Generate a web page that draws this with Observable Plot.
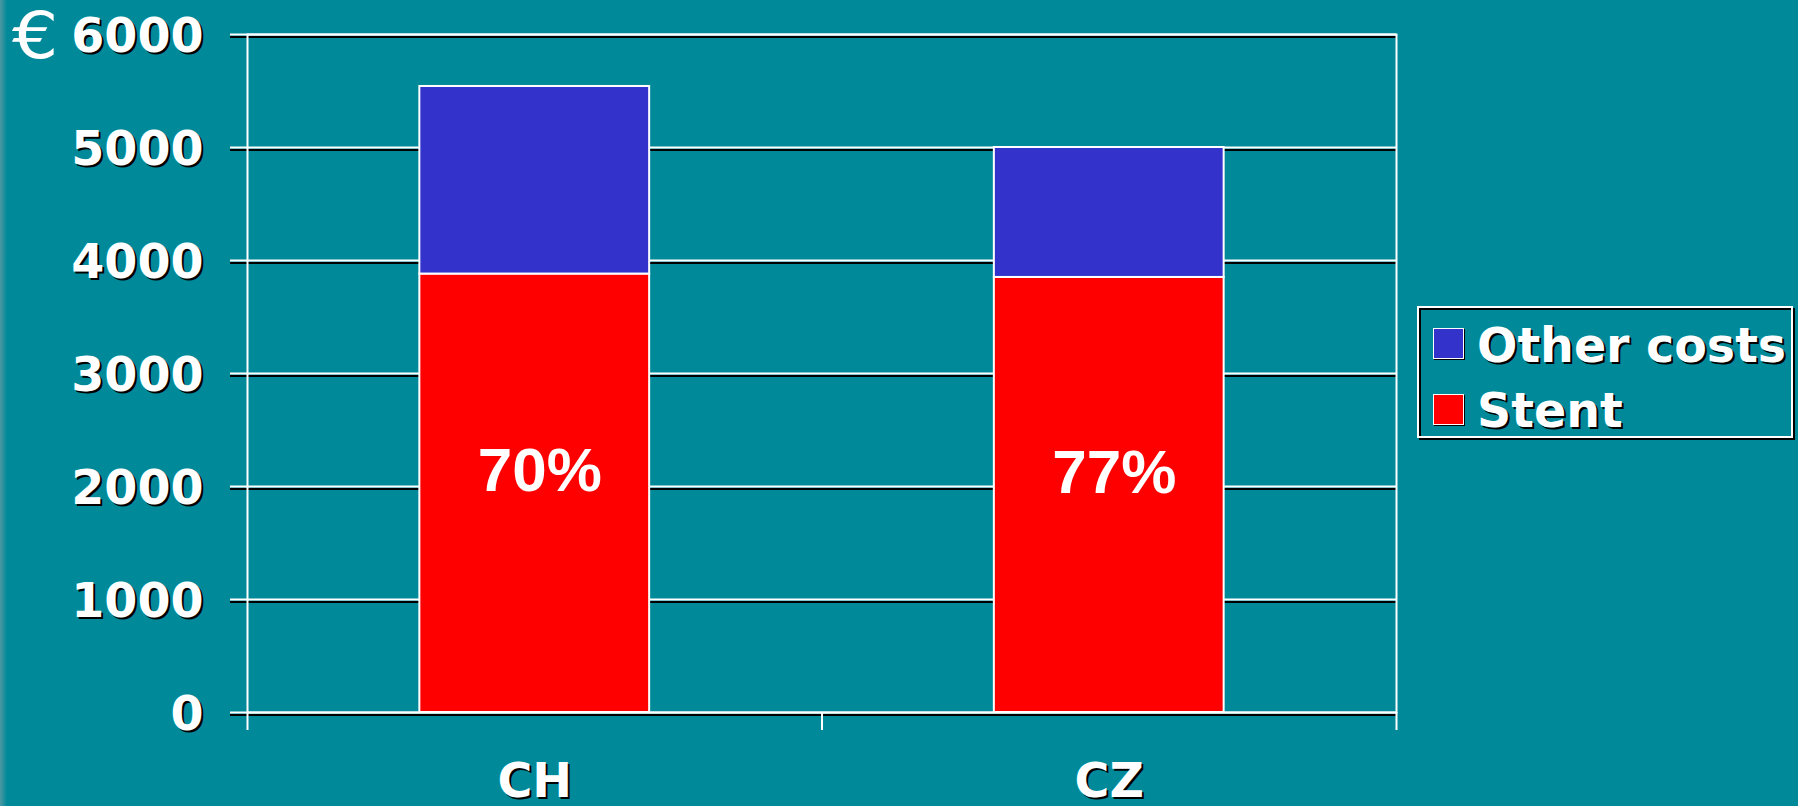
<!DOCTYPE html>
<html>
<head>
<meta charset="utf-8">
<script src="https://cdn.jsdelivr.net/npm/d3@7"></script>
<script src="https://cdn.jsdelivr.net/npm/@observablehq/plot@0.6"></script>
<style>
  html, body { margin: 0; padding: 0; overflow: hidden; background: #008999; }
  #wrap { position: relative; width: 1798px; height: 806px; overflow: hidden;
          background: linear-gradient(to right, #4d98a1 0px, #008999 7px); }
  #wrap svg { position: absolute; left: 0; top: 0; }
  .abs { position: absolute; }
  .lbl { font-family: "DejaVu Sans", Verdana, sans-serif; font-weight: bold; font-size: 47.5px;
         line-height: 48px; color: white; text-shadow: 2px 2px 0 #000; white-space: nowrap; }
</style>
</head>
<body>
<div id="wrap"></div>
<script>
// ---- data ----
const categories = ["CH", "CZ"];
const stentCost = [3880, 3850];
const otherCost = [1660, 1150];
const shareLabels = ["70%", "77%"];
const yTicks = [0, 1000, 2000, 3000, 4000, 5000, 6000];
const seriesNames = ["Other costs", "Stent"];
const seriesColors = ["#3333CC", "#FF0000"];
const currency = "€";

// ---- build table ----
const rows = [];
categories.forEach((c, i) => {
  rows.push({cat: c, idx: i, series: "Stent", y1: 0, y2: stentCost[i]});
  rows.push({cat: c, idx: i, series: "Other costs", y1: stentCost[i], y2: stentCost[i] + otherCost[i]});
});
const colorOf = s => seriesColors[seriesNames.indexOf(s)];

const W = 1798, H = 806;
const font = "DejaVu Sans, Verdana, sans-serif";
const fs = 47.5;

const chart = Plot.plot({
  width: W, height: H,
  marginLeft: 247, marginRight: 402, marginTop: 34, marginBottom: H - 712,
  style: {background: "transparent", overflow: "visible"},
  x: {type: "linear", domain: [0, categories.length], axis: null},
  y: {domain: [0, 6000], axis: null},
  marks: [
    Plot.ruleY(yTicks, {stroke: "black", strokeWidth: 2, dy: 2.5, insetLeft: -17}),
    Plot.ruleY(yTicks, {stroke: "white", strokeWidth: 2, insetLeft: -17}),
    Plot.rectY(rows, {x1: d => d.idx + 0.3, x2: d => d.idx + 0.7, y1: "y1", y2: "y2",
      fill: d => colorOf(d.series), stroke: "white", strokeWidth: 2}),
    Plot.frame({stroke: "white", strokeWidth: 2}),
    Plot.axisX({ticks: d3.range(categories.length + 1), tickSize: 18, tickFormat: () => "",
      stroke: "white", strokeWidth: 2, label: null}),
    // y tick labels (shadow + text)
    Plot.text(yTicks, {y: d => d, text: d => String(d), frameAnchor: "left", textAnchor: "end",
      dx: -44 + 2, dy: 2 + 2, fill: "black", fontSize: fs, fontWeight: "bold", fontFamily: font}),
    Plot.text(yTicks, {y: d => d, text: d => String(d), frameAnchor: "left", textAnchor: "end",
      dx: -44, dy: 2, fill: "white", fontSize: fs, fontWeight: "bold", fontFamily: font}),
    // category labels
    Plot.text(categories, {x: (d, i) => i + 0.5, text: d => d, frameAnchor: "bottom",
      dx: 2, dy: 84 + 2, fill: "black", fontSize: fs, fontWeight: "bold", fontFamily: font}),
    Plot.text(categories, {x: (d, i) => i + 0.5, text: d => d, frameAnchor: "bottom",
      dy: 84, fill: "white", fontSize: fs, fontWeight: "bold", fontFamily: font}),
    // share labels
    Plot.text(shareLabels, {x: (d, i) => i + 0.5, y: (d, i) => stentCost[i] * 0.55, text: d => d,
      dx: 5, fill: "white", fontSize: 62, fontWeight: "bold",
      fontFamily: "Liberation Sans, Arial, sans-serif"})
  ]
});

const wrap = document.getElementById("wrap");
wrap.appendChild(chart);

// currency symbol
const eur = document.createElement("div");
eur.className = "abs";
eur.textContent = currency;
Object.assign(eur.style, {left: "12px", top: "4px", fontFamily: font, fontSize: "64px",
  lineHeight: "64px", color: "white", transform: "scaleX(1.14)", transformOrigin: "left top"});
wrap.appendChild(eur);

// legend box
const sh = document.createElement("div");
sh.className = "abs";
Object.assign(sh.style, {left: "1419px", top: "308px", width: "376px", height: "132px",
  boxSizing: "border-box", border: "2px solid black"});
wrap.appendChild(sh);
const box = document.createElement("div");
box.className = "abs";
Object.assign(box.style, {left: "1417px", top: "306px", width: "376px", height: "132px",
  boxSizing: "border-box", border: "2px solid white"});
wrap.appendChild(box);

seriesNames.forEach((name, i) => {
  const top = 328 + i * 66;
  const sw = document.createElement("div");
  sw.className = "abs";
  Object.assign(sw.style, {left: "1433px", top: top + "px", width: "31px", height: "31px",
    boxSizing: "border-box", background: seriesColors[i], border: "1.5px solid white",
    boxShadow: "1px 1px 0 #000"});
  wrap.appendChild(sw);
  const t = document.createElement("div");
  t.className = "abs lbl";
  t.textContent = name;
  Object.assign(t.style, {left: "1477px", top: (322 + i * 65) + "px"});
  wrap.appendChild(t);
});
</script>
</body>
</html>
